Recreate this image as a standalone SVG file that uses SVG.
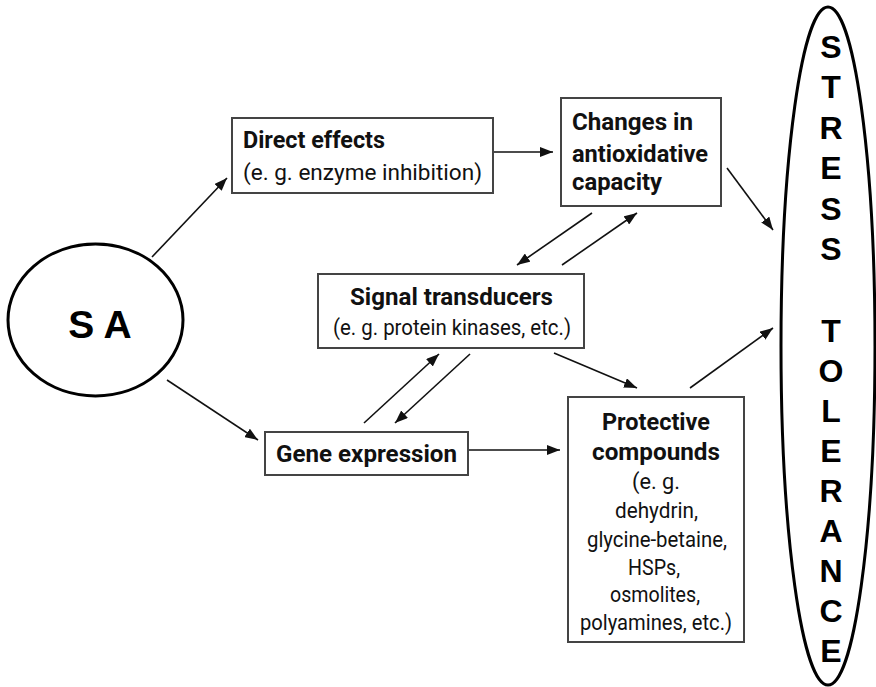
<svg xmlns="http://www.w3.org/2000/svg" width="876" height="687" viewBox="0 0 876 687">
<style>
.box{fill:#fff;stroke:#444;stroke-width:2}
.ell{fill:#fff;stroke:#000;stroke-width:3}
.b{font-family:Roboto,"Liberation Sans",sans-serif;font-weight:bold;font-size:23px;fill:#111}
.r{font-family:Roboto,"Liberation Sans",sans-serif;font-size:21.5px;fill:#111}
.big{font-family:"Liberation Sans",Arial,sans-serif;font-weight:bold;fill:#000}
.c{text-anchor:middle}
.con line{stroke:#111;stroke-width:1.6;marker-end:url(#ah)}
</style>
<defs>
<marker id="ah" markerUnits="userSpaceOnUse" markerWidth="14" markerHeight="10" refX="13" refY="5" orient="auto">
<path d="M0,0 L13,5 L0,10 z" fill="#111"/>
</marker>
</defs>
<g id="connectors" class="con">
<line x1="152" y1="257" x2="227" y2="178"/>
<line x1="167" y1="380" x2="258" y2="440"/>
<line x1="493" y1="152" x2="553" y2="152"/>
<line x1="727" y1="168" x2="773" y2="230"/>
<line x1="592" y1="213" x2="517" y2="265"/>
<line x1="562" y1="265" x2="637" y2="213"/>
<line x1="364" y1="423" x2="439" y2="354"/>
<line x1="470" y1="354" x2="395" y2="423"/>
<line x1="554" y1="353" x2="637" y2="388"/>
<line x1="468" y1="450" x2="560" y2="450"/>
<line x1="690" y1="388" x2="773" y2="328"/>
</g>
<g id="sa">
<ellipse class="ell" cx="95.5" cy="320" rx="87.5" ry="76"/>
<text class="big c" x="100" y="338" font-size="39">S A</text>
</g>
<g id="direct">
<rect class="box" x="232" y="118" width="261" height="75"/>
<text class="b" x="243" y="148" textLength="142" lengthAdjust="spacingAndGlyphs">Direct effects</text>
<text class="r" x="243" y="180" textLength="239" lengthAdjust="spacingAndGlyphs">(e. g. enzyme inhibition)</text>
</g>
<g id="changes">
<rect class="box" x="561" y="98" width="160" height="108"/>
<text class="b" x="572" y="130" textLength="121" lengthAdjust="spacingAndGlyphs">Changes in</text>
<text class="b" x="572" y="162" textLength="136" lengthAdjust="spacingAndGlyphs">antioxidative</text>
<text class="b" x="572" y="190" textLength="90" lengthAdjust="spacingAndGlyphs">capacity</text>
</g>
<g id="signal">
<rect class="box" x="318" y="274" width="266" height="74"/>
<text class="b" x="350" y="305" textLength="203" lengthAdjust="spacingAndGlyphs">Signal transducers</text>
<text class="r" x="333" y="335" textLength="238" lengthAdjust="spacingAndGlyphs">(e. g. protein kinases, etc.)</text>
</g>
<g id="gene">
<rect class="box" x="265" y="432" width="203" height="43"/>
<text class="b" x="276" y="462" textLength="181" lengthAdjust="spacingAndGlyphs">Gene expression</text>
</g>
<g id="protective">
<rect class="box" x="568" y="397" width="176" height="245"/>
<text class="b" x="602" y="430" textLength="108" lengthAdjust="spacingAndGlyphs">Protective</text>
<text class="b" x="592" y="460" textLength="128" lengthAdjust="spacingAndGlyphs">compounds</text>
<text class="r" x="632" y="489" textLength="48" lengthAdjust="spacingAndGlyphs">(e. g.</text>
<text class="r" x="615" y="518" textLength="83" lengthAdjust="spacingAndGlyphs">dehydrin,</text>
<text class="r" x="587" y="547" textLength="140" lengthAdjust="spacingAndGlyphs">glycine-betaine,</text>
<text class="r" x="628" y="575" textLength="52" lengthAdjust="spacingAndGlyphs">HSPs,</text>
<text class="r" x="610" y="602" textLength="90" lengthAdjust="spacingAndGlyphs">osmolites,</text>
<text class="r" x="580" y="630" textLength="152" lengthAdjust="spacingAndGlyphs">polyamines, etc.)</text>
</g>
<g id="stress">
<ellipse class="ell" cx="828" cy="346" rx="47" ry="339"/>
<g class="big c" font-size="32">
<text x="831" y="57.5">S</text>
<text x="831" y="98">T</text>
<text x="831" y="138.5">R</text>
<text x="831" y="179">E</text>
<text x="831" y="219.5">S</text>
<text x="831" y="260">S</text>
<text x="831" y="341.5">T</text>
<text x="831" y="381.5">O</text>
<text x="831" y="421.5">L</text>
<text x="831" y="461.5">E</text>
<text x="831" y="501.5">R</text>
<text x="831" y="541.5">A</text>
<text x="831" y="581.5">N</text>
<text x="831" y="621.5">C</text>
<text x="831" y="661.5">E</text>
</g>
</g>
</svg>
